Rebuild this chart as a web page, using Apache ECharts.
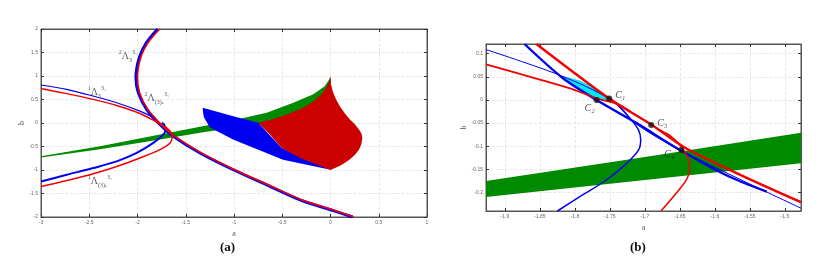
<!DOCTYPE html>
<html><head><meta charset="utf-8">
<script src="https://cdn.jsdelivr.net/npm/echarts@6/dist/echarts.min.js"></script>
<style>html,body{margin:0;padding:0;background:#fff}#c{width:832px;height:263px}</style>
</head><body><div id="c"></div>
<script>
// ---------- axes ----------
const aXTicks = [-3,-2.5,-2,-1.5,-1,-0.5,0,0.5,1];
const aYTicks = [-2,-1.5,-1,-0.5,0,0.5,1,1.5,2];
const aXRange = [-3,1];
const aYRange = [-2,2];
const bXTicks = [-1.9,-1.85,-1.8,-1.75,-1.7,-1.65,-1.6,-1.55,-1.5];
const bYTicks = [-0.2,-0.15,-0.1,-0.05,0,0.05,0.1];
const bXRange = [-1.927,-1.477];
const bYRange = [-0.24,0.121];

// ---------- panel (a) data ----------
const aBigBlue = [[-1.79,2.0],[-1.905,1.715],[-1.981,1.395],[-2.016,0.967],[-1.992,0.646],[-1.905,0.289],[-1.767,-0.032],[-1.629,-0.282],[-1.352,-0.637],[-1.007,-0.995],[-0.661,-1.316],[-0.316,-1.636],[0.029,-1.865],[0.23,-2.0]];
const aBigRed = [[-1.77,2.0],[-1.888,1.715],[-1.966,1.395],[-2.0,0.967],[-1.978,0.646],[-1.893,0.289],[-1.757,-0.028],[-1.62,-0.276],[-1.344,-0.63],[-0.999,-0.988],[-0.653,-1.308],[-0.308,-1.628],[0.037,-1.857],[0.24,-2.0]];
const aUpBlue = [[-3,0.809],[-2.734,0.717],[-2.458,0.573],[-2.216,0.432],[-1.974,0.252],[-1.836,0.111],[-1.767,-0.011]];
const aUpRed = [[-3,0.732],[-2.734,0.625],[-2.458,0.503],[-2.216,0.374],[-1.974,0.203],[-1.836,0.06],[-1.733,-0.068],[-1.646,-0.21]];
const aLowBlue = [[-3,-1.245],[-2.734,-1.102],[-2.458,-0.958],[-2.216,-0.817],[-2.008,-0.637],[-1.836,-0.424],[-1.733,-0.246],[-1.708,-0.139],[-1.725,-0.032],[-1.749,0.004]];
const aLowRed = [[-3,-1.352],[-2.734,-1.224],[-2.458,-1.08],[-2.216,-0.924],[-1.974,-0.744],[-1.767,-0.567],[-1.663,-0.424],[-1.639,-0.282],[-1.663,-0.175],[-1.715,-0.068]];
const aGreen = [[-3,-0.71],[-2.389,-0.496],[-1.767,-0.246],[-1.352,-0.082],[-1.007,0.061],[-0.661,0.218],[-0.385,0.432],[-0.178,0.61],[-0.06,0.78],[0,0.97],
                [0,0.8],[-0.1,0.52],[-0.2,0.36],[-0.5,0.06],[-1.007,-0.103],[-1.352,-0.21],[-1.767,-0.353],[-2.389,-0.56],[-3,-0.735]];
const aBlueRegion = [[-1.324,0.325],[-1.007,0.145],[-0.748,0.004],[-0.506,-0.53],[0,-0.995],[-0.492,-0.781],[-1.01,-0.353],[-1.249,-0.096],[-1.311,0.118],[-1.321,0.225]];
const aRedRegion = [[-0.748,0.004],[-0.6,0.08],[-0.45,0.18],[-0.3,0.31],[-0.18,0.45],[-0.08,0.64],[-0.02,0.84],[0,1.0],
  [0.005,0.824],[0.026,0.652],[0.057,0.503],[0.098,0.353],[0.15,0.203],[0.202,0.075],[0.254,-0.032],[0.295,-0.139],[0.321,-0.225],[0.33,-0.317],
  [0.321,-0.439],[0.295,-0.567],[0.254,-0.674],[0.202,-0.77],[0.15,-0.845],[0.098,-0.909],[0.047,-0.958],[0,-1.0],
  [-0.316,-0.744],[-0.506,-0.53],[-0.627,-0.246]];
const aLabels = [
  {value:[-2.098,1.42], pre:'2', sub:'3'},
  {value:[-2.42,0.65], pre:'1', sub:'3'},
  {value:[-1.80,0.52], pre:'2', sub:'(3)ₛ'},
  {value:[-2.389,-1.25], pre:'1', sub:'(3)ₛ'}
];

// ---------- panel (b) data ----------
const bGreen = [[-1.927,-0.175],[-1.70,-0.123],[-1.477,-0.0706],[-1.477,-0.137],[-1.70,-0.173],[-1.927,-0.21]];
const bCyan = [[-1.821,0.053],[-1.793,0.042],[-1.764,0.02],[-1.735,-0.01],[-1.769,0.002],[-1.793,0.022],[-1.809,0.04]];
const bRedThick = [[-1.855,0.121],[-1.75,0.002],[-1.69,-0.054],[-1.645,-0.101],[-1.579,-0.151],[-1.477,-0.221]];
const bBlueThick = [[-1.872,0.121],[-1.817,0.047],[-1.769,0.0],[-1.712,-0.05],[-1.65,-0.108],[-1.579,-0.166],[-1.526,-0.198]];
const bBlueThin = [[-1.927,0.109],[-1.819,0.052],[-1.75,0.0015],[-1.712,-0.052],[-1.65,-0.108],[-1.477,-0.234]];
const bRedMid = [[-1.927,0.077],[-1.864,0.05],[-1.807,0.025],[-1.769,0.0036],[-1.74,-0.0086],[-1.721,-0.025]];
const bBlueParab = [[-1.825,-0.24],[-1.793,-0.209],[-1.755,-0.173],[-1.726,-0.137],[-1.709,-0.108],[-1.706,-0.086],[-1.709,-0.065],[-1.721,-0.04],[-1.736,-0.0145],[-1.748,0.0]];
const bRedParab = [[-1.677,-0.24],[-1.655,-0.201],[-1.641,-0.173],[-1.636,-0.151],[-1.638,-0.127],[-1.648,-0.101],[-1.664,-0.077],[-1.683,-0.062]];
const bPoints = [
  {name:'C₁', value:[-1.751,0.003], off:[11,-3]},
  {name:'C₂', value:[-1.769,0.0], off:[-7,8]},
  {name:'C₃', value:[-1.691,-0.054], off:[11,-2]},
  {name:'C₄', value:[-1.648,-0.108], off:[-12,4]}
];

// ---------- styling ----------
const RED = '#f20000', BLUE = '#0000f0', GREEN = '#008a00', REDFILL = '#cc0000', CYAN = '#00e8f0';
const SERIF = '"Liberation Serif","DejaVu Serif",serif';

function xAxisPair(grid, range, ticks, name, gap) {
  const base = {gridIndex: grid, type: 'value', min: range[0], max: range[1],
    axisLine: {show: true, onZero: false, lineStyle: {color: '#555', width: 1}},
    axisTick: {show: true, inside: true, length: 3, customValues: ticks, lineStyle: {color: '#333'}},
    splitLine: {show: false}};
  return [
    Object.assign({}, base, {position: 'bottom', name: name, nameLocation: 'middle', nameGap: gap,
      nameTextStyle: {fontFamily: SERIF, fontSize: 8, color: '#555'},
      axisLabel: {show: true, customValues: ticks, fontSize: 5, color: '#666', margin: 3},
      splitLine: {show: true, lineStyle: {color: '#e2e2e2', type: 'dashed', width: 0.8}}}),
    Object.assign({}, base, {position: 'top', axisLabel: {show: false}})
  ];
}
function yAxisPair(grid, range, ticks, name, gap) {
  const base = {gridIndex: grid, type: 'value', min: range[0], max: range[1],
    axisLine: {show: true, onZero: false, lineStyle: {color: '#555', width: 1}},
    axisTick: {show: true, inside: true, length: 3, customValues: ticks, lineStyle: {color: '#333'}},
    splitLine: {show: false}};
  return [
    Object.assign({}, base, {position: 'left', name: name, nameLocation: 'middle', nameGap: gap,
      nameTextStyle: {fontFamily: SERIF, fontSize: 8, color: '#555'},
      axisLabel: {show: true, customValues: ticks, fontSize: 5, color: '#666', margin: 3},
      splitLine: {show: true, lineStyle: {color: '#e2e2e2', type: 'dashed', width: 0.8}}}),
    Object.assign({}, base, {position: 'right', axisLabel: {show: false}})
  ];
}

function poly(pts, color, xi, yi, z) {
  return {type: 'custom', xAxisIndex: xi, yAxisIndex: yi, data: pts, z: z, silent: true,
    encode: {x: 0, y: 1},
    renderItem: function (params, api) {
      if (params.dataIndex !== 0) return null;
      const points = pts.map(function (p) { return api.coord(p); });
      return {type: 'polygon', shape: {points: points}, style: {fill: color}};
    }};
}
function line(pts, color, width, xi, yi, z) {
  return {type: 'line', xAxisIndex: xi, yAxisIndex: yi, data: pts, showSymbol: false, symbol: 'none',
    smooth: 0.3, silent: true, z: z, lineStyle: {color: color, width: width}};
}

const chart = echarts.init(document.getElementById('c'), null, {renderer: 'canvas'});
chart.setOption({
  animation: false,
  backgroundColor: '#fff',
  grid: [
    {left: 41, top: 29, width: 386, height: 188, show: true, borderColor: '#555', borderWidth: 1, backgroundColor: 'transparent'},
    {left: 486, top: 44, width: 315, height: 167, show: true, borderColor: '#555', borderWidth: 1, backgroundColor: 'transparent'}
  ],
  xAxis: xAxisPair(0, aXRange, aXTicks, 'a', 9).concat(xAxisPair(1, bXRange, bXTicks, 'a', 7)),
  yAxis: yAxisPair(0, aYRange, aYTicks, 'b', 11).concat(yAxisPair(1, bYRange, bYTicks, 'b', 10)),
  graphic: [
    {type: 'text', left: 220, top: 241, style: {text: '(a)', font: 'bold 13px ' + SERIF, fill: '#111'}},
    {type: 'text', left: 630, top: 241, style: {text: '(b)', font: 'bold 13px ' + SERIF, fill: '#111'}}
  ],
  series: [
    poly(aGreen, GREEN, 0, 0, 2),
    poly(aBlueRegion, BLUE, 0, 0, 3),
    poly(aRedRegion, REDFILL, 0, 0, 4),
    line(aBigBlue, BLUE, 3, 0, 0, 5),
    line(aBigRed, RED, 1.6, 0, 0, 6),
    line(aUpBlue, BLUE, 1.2, 0, 0, 5),
    line(aUpRed, RED, 1.5, 0, 0, 6),
    line(aLowBlue, BLUE, 2, 0, 0, 5),
    line(aLowRed, RED, 1.5, 0, 0, 6),
    {type: 'scatter', xAxisIndex: 0, yAxisIndex: 0, symbolSize: 0, silent: true, z: 8,
      data: aLabels.map(function (d) { return {value: d.value}; }),
      label: {show: true, position: 'inside', color: '#333', fontFamily: SERIF,
        formatter: function (p) { return '{p|' + aLabels[p.dataIndex].pre + '}{m|Λ}{s|' + aLabels[p.dataIndex].sub + '}{t|3₁}'; },
        rich: {
          p: {fontSize: 6, fontFamily: SERIF, color: '#333', verticalAlign: 'top', lineHeight: 14},
          m: {fontSize: 10, fontFamily: SERIF, color: '#333', lineHeight: 14},
          s: {fontSize: 6, fontFamily: SERIF, color: '#333', verticalAlign: 'bottom', lineHeight: 14},
          t: {fontSize: 6, fontFamily: SERIF, color: '#333', verticalAlign: 'top', lineHeight: 14}
        }}},
    poly(bGreen, GREEN, 2, 2, 2),
    poly(bCyan, CYAN, 2, 2, 3),
    line(bBlueThin, BLUE, 1, 2, 2, 5),
    line(bBlueThick, BLUE, 2.4, 2, 2, 5),
    line(bRedThick, RED, 2.4, 2, 2, 6),
    line(bRedMid, RED, 1.8, 2, 2, 6),
    line(bBlueParab, BLUE, 1.5, 2, 2, 5),
    line(bRedParab, RED, 1.5, 2, 2, 6),
    {type: 'scatter', xAxisIndex: 2, yAxisIndex: 2, symbolSize: 6, silent: true, z: 9,
      itemStyle: {color: '#111'},
      data: bPoints.map(function (d) { return {name: d.name, value: d.value, label: {offset: d.off}}; }),
      label: {show: true, position: 'inside', formatter: '{b}', fontFamily: SERIF, fontStyle: 'italic', fontSize: 10, color: '#222'}}
  ]
});
</script></body></html>
